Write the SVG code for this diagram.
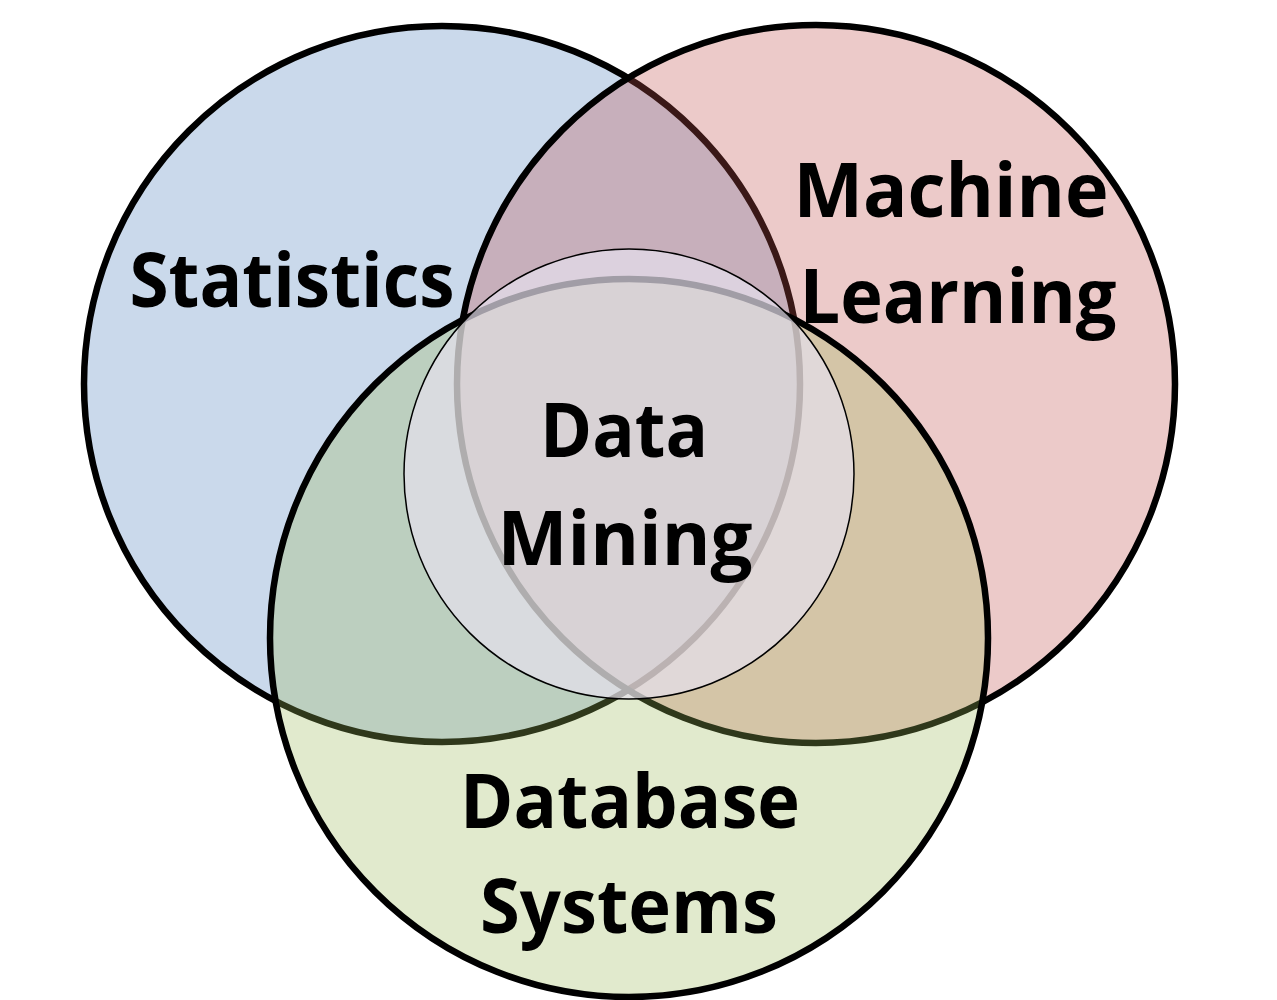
<svg xmlns="http://www.w3.org/2000/svg" width="1277" height="1000" viewBox="0 0 1277 1000">
<style>
.big{stroke:#000;stroke-width:6.5}
.lbl{font-family:"Open Sans","Liberation Sans",sans-serif;font-weight:bold;font-size:76px;fill:#000;text-anchor:middle}
</style>
<rect width="1277" height="1000" fill="#fff"/>
<g id="statistics">
<circle class="big" cx="442" cy="384" r="358" fill="rgba(79,129,189,0.3)"/>
</g>
<g id="machine-learning">
<circle class="big" cx="816" cy="384" r="359" fill="rgba(192,80,77,0.3)"/>
</g>
<g id="database-systems">
<circle class="big" cx="629" cy="638" r="359" fill="rgba(155,187,89,0.3)"/>
</g>
<g id="data-mining">
<circle cx="629" cy="474" r="225" fill="rgba(230,224,236,0.7)" stroke="#000" stroke-width="1.5"/>
</g>
<g id="connectors"></g>
<g id="labels">
<text class="lbl" x="292" y="307" textLength="325" lengthAdjust="spacingAndGlyphs">Statistics</text>
<text class="lbl" x="951" y="217" textLength="315" lengthAdjust="spacingAndGlyphs">Machine</text>
<text class="lbl" x="958" y="323" textLength="317" lengthAdjust="spacingAndGlyphs">Learning</text>
<text class="lbl" x="624" y="457" textLength="168" lengthAdjust="spacingAndGlyphs">Data</text>
<text class="lbl" x="625" y="565" textLength="255" lengthAdjust="spacingAndGlyphs">Mining</text>
<text class="lbl" x="630" y="828" textLength="340" lengthAdjust="spacingAndGlyphs">Database</text>
<text class="lbl" x="629" y="933" textLength="298" lengthAdjust="spacingAndGlyphs">Systems</text>
</g>
</svg>
